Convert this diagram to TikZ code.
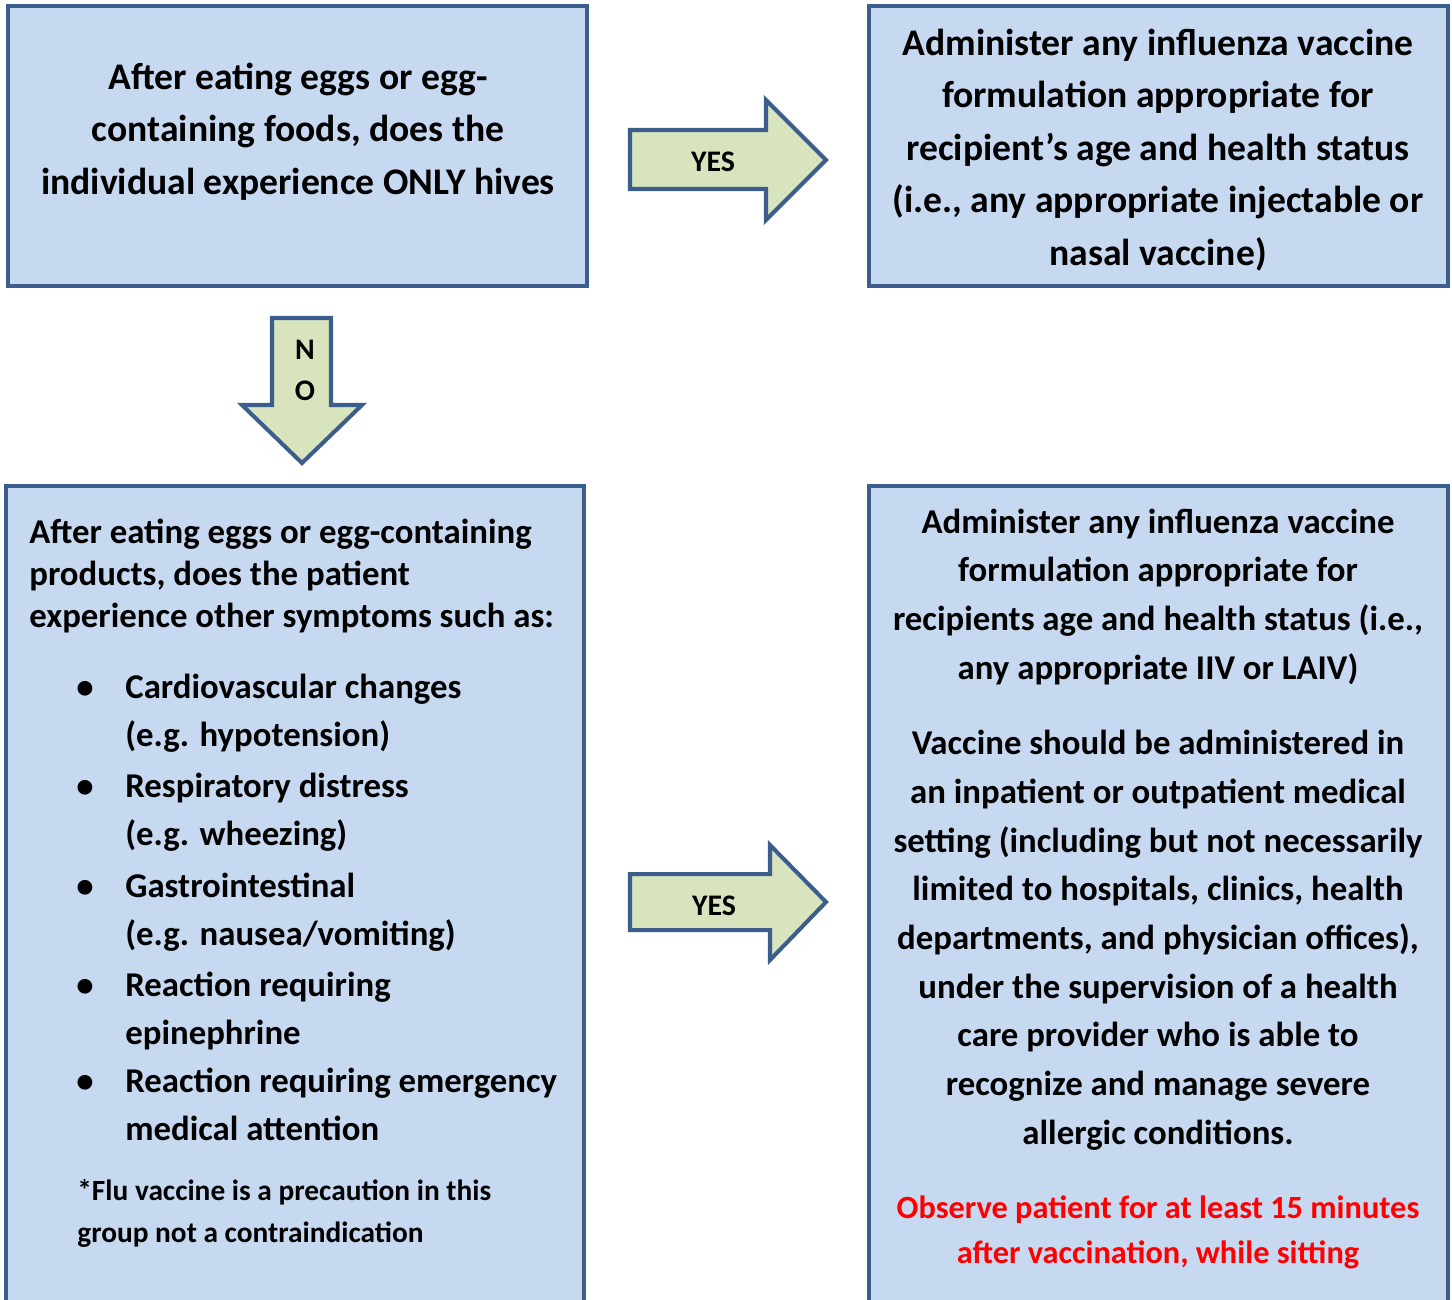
\documentclass[tikz,border=0pt]{standalone}
\usepackage{fontspec}
\setmainfont{Carlito}
\usepackage{tikz}
\usetikzlibrary{positioning,calc}

\definecolor{boxfill}{HTML}{C6D9F1}
\definecolor{boxline}{HTML}{3B5E8C}
\definecolor{arrowfill}{HTML}{D7E4BD}
\definecolor{warnred}{HTML}{FF0000}

\tikzset{
  box/.style={draw=boxline, fill=boxfill, line width=2.3pt},
  blockarrow/.style={draw=boxline, fill=arrowfill, line width=2.3pt, line join=miter},
  bigtxt/.style={inner sep=0pt, align=center, font=\bfseries\fontsize{21.4}{29.8}\selectfont},
  midtxt/.style={inner sep=0pt, align=left, font=\bfseries\fontsize{19.8}{23.9}\selectfont},
  listtxt/.style={inner sep=0pt, align=left, font=\bfseries\fontsize{19.8}{27.6}\selectfont},
  notetxt/.style={inner sep=0pt, align=left, font=\bfseries\fontsize{16.7}{23.9}\selectfont},
  answertxt/.style={inner sep=0pt, align=center, font=\bfseries\fontsize{19.8}{27.7}\selectfont},
  arrowtxt/.style={inner sep=0pt, align=center, font=\bfseries\fontsize{17}{23.3}\selectfont},
}

\begin{document}
\begin{tikzpicture}[x=0.02cm, y=-0.02cm]
    \clip (0,0) rectangle (1452,1299);

    % Boxes
    \draw[box] (8,6) rectangle (587,286);
    \draw[box] (869,6) rectangle (1448,286);
    \draw[box] (6,486) rectangle (584,1330);
    \draw[box] (869,486) rectangle (1448,1330);

    % Block arrows
    \draw[blockarrow] (630,130) -- (766,130) -- (766,100) -- (826,160) -- (766,220) -- (766,189) -- (630,189) -- cycle;
    \draw[blockarrow] (272,318) -- (331,318) -- (331,405) -- (362,405) -- (302,463) -- (242,405) -- (272,405) -- cycle;
    \draw[blockarrow] (630,874) -- (770,874) -- (770,845) -- (826,902) -- (770,960) -- (770,930) -- (630,930) -- cycle;
    \node[arrowtxt] (yes1) at (713,162) {YES};
    \node[arrowtxt, anchor=base] (no) at (305,400) {N\\O};
    \node[arrowtxt] (yes2) at (714,906) {YES};

    % Question 1 (base = last line)
    \node[bigtxt, anchor=base] (hives) at (298,194) {After eating eggs or egg-\\containing foods, does the\\individual experience ONLY hives};
    \node[bigtxt, anchor=base] (anyvac) at (1158,265) {Administer any influenza vaccine\\formulation appropriate for\\recipient’s age and health status\\(i.e., any appropriate injectable or\\nasal vaccine)};

    % Question 2
    \node[midtxt, anchor=base west] (other) at (29,627) {After eating eggs or egg-containing\\products, does the patient\\experience other symptoms such as:};
    \foreach \y/\txt [count=\i] in {698/{Cardiovascular changes\\(e.g. hypotension)},
        797/{Respiratory distress\\(e.g. wheezing)},
        897/{Gastrointestinal\\(e.g. nausea/vomiting)},
        996/{Reaction requiring\\epinephrine},
        1092/{Reaction requiring emergency\\medical attention}} {
      \node[listtxt, anchor=base] (dot\i) at (85,\y) {•};
      \node[listtxt, anchor=base west] (item\i) at (125,\y+48.5) {\txt};
    }
    \node[notetxt, anchor=base west] (note) at (77,1242) {*Flu vaccine is a precaution in this\\group not a contraindication};

    % Answer 2
    \node[answertxt, anchor=base] (setting1) at (1158,679) {Administer any influenza vaccine\\formulation appropriate for\\recipients age and health status (i.e.,\\any appropriate IIV or LAIV)};
    \node[answertxt, anchor=base] (setting2) at (1158,1144) {Vaccine should be administered in\\an inpatient or outpatient medical\\setting (including but not necessarily\\limited to hospitals, clinics, health\\departments, and physician offices),\\under the supervision of a health\\care provider who is able to\\recognize and manage severe\\allergic conditions.};
    \node[answertxt, anchor=base, text=warnred, font=\bfseries\fontsize{18.4}{25.6}\selectfont] (observe) at (1158,1263) {Observe patient for at least 15 minutes\\after vaccination, while sitting};
\end{tikzpicture}
\end{document}
